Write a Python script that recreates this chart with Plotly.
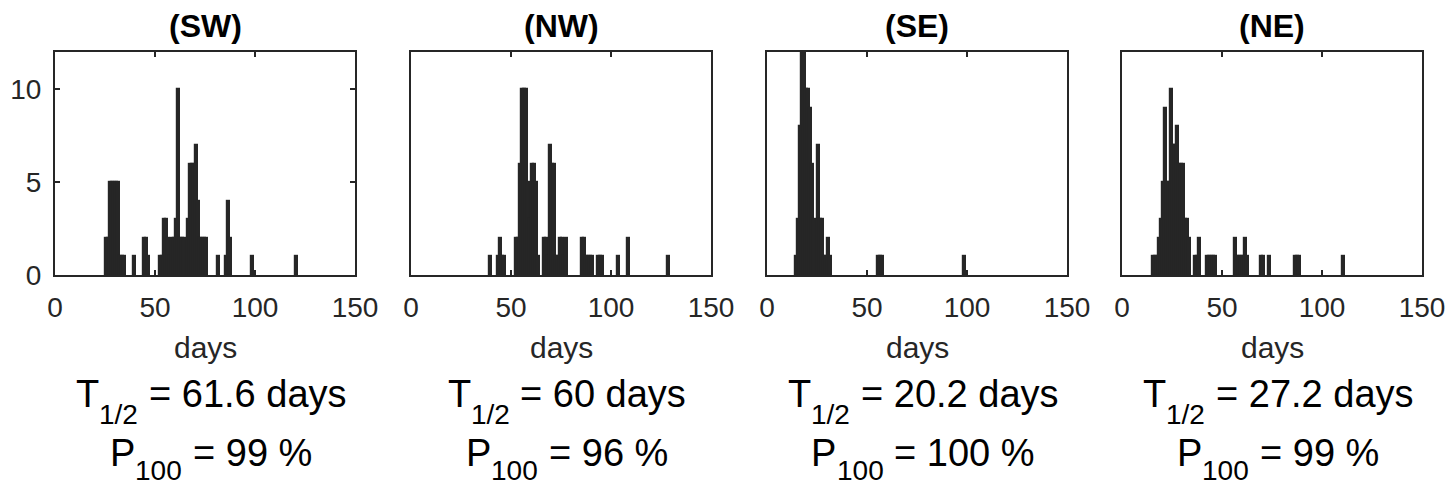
import plotly.graph_objects as go

# Daily counts per region (bin start day -> number of events)
sw_days = [25, 26, 27, 28, 29, 30, 31, 32, 33, 34, 39, 44, 45, 46,
           52, 53, 54, 55, 56, 57, 58, 59, 60, 61, 62, 63, 64,
           66, 67, 68, 69, 70, 71, 72, 73, 74, 75, 81, 85, 86, 87, 98, 120]
sw_counts = [2, 2, 5, 5, 5, 5, 5, 1, 1, 1, 1, 2, 2, 1,
             1, 1, 3, 3, 2, 1, 2, 2, 3, 10, 2, 2, 2,
             3, 6, 6, 6, 7, 4, 2, 2, 2, 2, 1, 1, 4, 2, 1, 1]

nw_days = [39, 43, 44, 45, 46, 52, 53, 54, 55, 56, 57, 58, 59, 60, 61, 62, 63,
           66, 67, 68, 69, 70, 71, 72, 73, 74, 75, 76, 77,
           85, 86, 87, 88, 89, 90, 93, 94, 95, 103, 108, 128]
nw_counts = [1, 1, 2, 1, 1, 2, 2, 6, 10, 10, 10, 5, 3, 6, 6, 5, 1,
             2, 2, 1, 7, 6, 6, 1, 1, 2, 2, 1, 2,
             2, 2, 1, 1, 1, 1, 1, 1, 1, 1, 2, 1]

se_days = [14, 15, 16, 17, 18, 19, 20, 21, 22, 23, 25, 26, 27, 28, 29, 30, 31,
           55, 56, 57, 98]
se_counts = [1, 3, 8, 13, 12, 10, 10, 9, 6, 3, 7, 3, 3, 1, 1, 2, 1,
             1, 1, 1, 1]

ne_days = [15, 16, 17, 18, 19, 20, 21, 22, 23, 24, 25, 26, 27, 28, 29, 30, 31, 32, 33,
           36, 37, 38, 42, 43, 44, 45, 46, 56, 57, 58, 59, 60, 61, 62,
           69, 70, 73, 86, 87, 88, 110]
ne_counts = [1, 1, 1, 2, 3, 5, 9, 5, 5, 10, 7, 7, 8, 6, 6, 6, 3, 3, 2,
             1, 1, 2, 1, 1, 1, 1, 1, 2, 1, 1, 1, 1, 2, 1,
             1, 1, 1, 1, 1, 1, 1]

regions = ["(SW)", "(NW)", "(SE)", "(NE)"]
half_life = ["61.6", "60", "20.2", "27.2"]
p100 = ["99", "96", "100", "99"]
x_ticks = [0, 50, 100, 150]
y_ticks = [0, 5, 10]

series = [(sw_days, sw_counts), (nw_days, nw_counts),
          (se_days, se_counts), (ne_days, ne_counts)]

W, H = 1453, 487
FONT = "Liberation Sans, Arial, Helvetica, sans-serif"
INK = "#262626"
BAR = "#262626"

TICK_SIZE = 28
TITLE_SIZE = 32
LABEL_SIZE = 30
STAT_SIZE = 38
SUB_SIZE = 28

# panel placement in pixels (left, right), shared top/bottom
panel_px = [(55, 355), (411, 711), (767, 1067), (1122, 1422)]
top_px, bottom_px = 52, 275

# Arial / Liberation Sans advance widths (per 1000 em)
ADV = {" ": 278, "%": 889, ".": 278, "/": 278, "=": 584, "P": 667, "T": 611,
       "a": 556, "d": 556, "s": 500, "y": 500}
ADV.update({str(k): 556 for k in range(10)})


def text_w(s, size):
    return sum(ADV[c] for c in s) / 1000 * size


def px_x(p):
    return p / W


def px_y(p):
    return 1 - p / H


def note(text, x, y, size, color=INK, anchor="center"):
    return dict(text=text, x=px_x(x), y=px_y(y), xref="paper", yref="paper",
                xanchor=anchor, yanchor="middle", showarrow=False,
                font=dict(size=size, color=color, family=FONT))


def subscripted(head, sub, tail, cx, y_main, y_sub):
    """Head letter, lowered subscript, then the rest of the line."""
    widths = [text_w(head, STAT_SIZE), text_w(sub, SUB_SIZE),
              text_w(" ", STAT_SIZE), text_w(tail, STAT_SIZE)]
    x = cx - sum(widths) / 2
    out = [note(head, x, y_main, STAT_SIZE, "black", "left")]
    x += widths[0]
    out.append(note(sub, x, y_sub, SUB_SIZE, "black", "left"))
    x += widths[1] + widths[2]
    out.append(note(tail, x, y_main, STAT_SIZE, "black", "left"))
    return out


fig = go.Figure()
layout = dict(
    width=W, height=H,
    margin=dict(l=0, r=0, t=0, b=0, autoexpand=False),
    paper_bgcolor="white", plot_bgcolor="white",
    showlegend=False, bargap=0,
    font=dict(family=FONT, color=INK),
)

annotations = []
for i, ((days, counts), (l, r)) in enumerate(zip(series, panel_px)):
    n = "" if i == 0 else str(i + 1)
    fig.add_trace(go.Bar(
        x=days, y=counts, width=1, offset=0,
        xaxis="x" + n, yaxis="y" + n,
        marker=dict(color=BAR, line=dict(color=BAR, width=2.2)),
        hoverinfo="skip",
    ))
    layout["xaxis" + n] = dict(
        domain=[px_x(l), px_x(r)], anchor="y" + n, automargin=False,
        range=[0, 150], tickvals=x_ticks, ticks="inside", ticklen=5,
        tickwidth=1.5, tickcolor=INK, showline=True, linecolor=INK,
        linewidth=2, mirror="ticks", showgrid=False, zeroline=False,
        tickfont=dict(size=TICK_SIZE, color=INK), ticklabelstandoff=6,
        fixedrange=True,
    )
    ydict = dict(
        domain=[px_y(bottom_px), px_y(top_px)], anchor="x" + n,
        automargin=False, range=[0, 12], showline=True, linecolor=INK,
        linewidth=2, mirror=True, showgrid=False, zeroline=False,
        fixedrange=True,
    )
    if i == 0:
        ydict.update(tickvals=y_ticks, ticks="inside", ticklen=5,
                     tickwidth=1.5, tickcolor=INK, mirror="ticks",
                     tickfont=dict(size=TICK_SIZE, color=INK),
                     ticklabelstandoff=6)
    else:
        ydict.update(showticklabels=False, ticks="")
    layout["yaxis" + n] = ydict

    cx = (l + r) / 2
    annotations.append(note("<b>" + regions[i] + "</b>", cx, 26, TITLE_SIZE,
                            "black"))
    annotations.append(note("days", cx, 347, LABEL_SIZE))
    annotations += subscripted("T", "1/2", "= " + half_life[i] + " days",
                               cx + 4, 394, 414)
    annotations += subscripted("P", "100", "= " + p100[i] + " %",
                               cx + 4, 453, 470)

layout["annotations"] = annotations
fig.update_layout(**layout)
fig.write_html("out.html")
